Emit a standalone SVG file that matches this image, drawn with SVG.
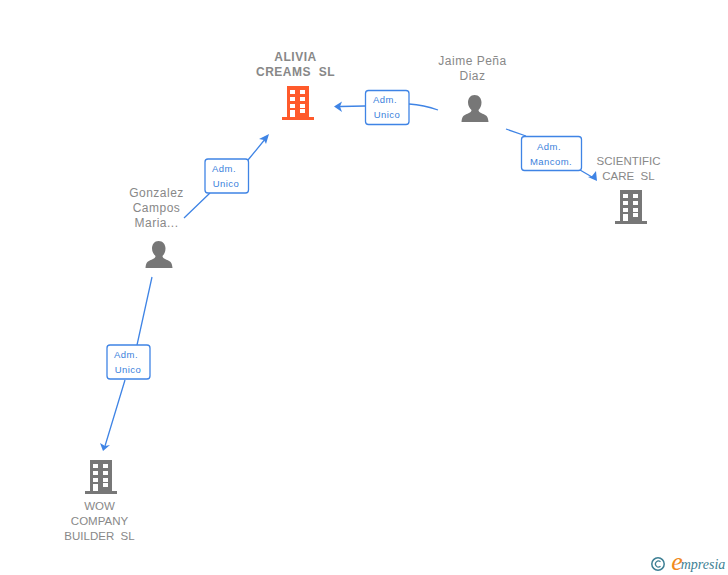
<svg xmlns="http://www.w3.org/2000/svg" width="728" height="575" viewBox="0 0 728 575">
<style>
text{font-family:"Liberation Sans",Arial,sans-serif;text-anchor:middle;white-space:pre}
.n{font-size:12px;fill:#888;letter-spacing:.5px}
.cap{font-size:11.500px;letter-spacing:0}
.b{font-weight:bold}
.l{font-size:9.5px;fill:#3b7fdc;letter-spacing:.45px}
.c{fill:none;stroke:#3f84e5;stroke-width:1.3}
.h{fill:#3f84e5}
.box{fill:#fff;stroke:#3f84e5;stroke-width:1.3}
.g{fill:#777}
.o{fill:#ff5a2b}
</style>
<defs>
<path id="bld" fill-rule="evenodd" d="M5 0H27V31H32V34H0V31H5ZM8 4V8H13V4ZM18 4V8H23V4ZM8 11V15H13V11ZM18 11V15H23V11ZM8 18V22H13V18ZM18 18V22H23V18ZM8 24V31H13V24ZM18 23V27H23V23Z"/>
<path id="per" d="M13 0C17.500 0 20 3.500 20 7.500C20 11 18.500 13.500 17 15C17 16.500 18 17.500 21 18.800C25 20.300 26.500 21.500 27 27H0C.5 21.500 2 20.300 6 18.800C9 17.500 10 16.500 10 15C8.500 13.500 6.500 11 6.500 7.500C6.500 3.500 9 0 13 0Z"/>
</defs>
<g id="connectors">
<path class="c" d="M438 110Q424 105 409 104M365 106L340 106.500"/>
<path class="h" d="M334 106.500L342 101.500L340 106.500L342 112Z"/>
<path class="c" d="M506 129L526 136M580 170L592 177"/>
<path class="h" d="M597 181L588 177L592 176L596 171Z"/>
<path class="c" d="M184 218L210 193M248 160L266 138"/>
<path class="h" d="M269 134L266 144L264 140L259 139Z"/>
<path class="c" d="M152 277L137 345M125 380L105 446"/>
<path class="h" d="M103 451L100 443L105 446L110 445Z"/>
</g>
<g id="node-alivia">
<use href="#bld" x="282" y="86" class="o"/>
<text class="n b" x="295.500" y="61">ALIVIA</text>
<text class="n b" x="295.500" y="76">CREAMS  SL</text>
</g>
<g id="node-jaime">
<use href="#per" x="461.500" y="95" class="g"/>
<text class="n" x="472.500" y="65">Jaime Peña</text>
<text class="n" x="472.500" y="80">Diaz</text>
</g>
<g id="node-scientific">
<use href="#bld" x="615" y="190" class="g"/>
<text class="n cap" x="628.500" y="165">SCIENTIFIC</text>
<text class="n cap" x="628.500" y="180">CARE  SL</text>
</g>
<g id="node-gonzalez">
<use href="#per" x="145.500" y="241" class="g"/>
<text class="n" x="156.500" y="197">Gonzalez</text>
<text class="n" x="156.500" y="212">Campos</text>
<text class="n" x="156.500" y="227">Maria...</text>
</g>
<g id="node-wow">
<use href="#bld" x="85" y="460" class="g"/>
<text class="n cap" x="99.500" y="510">WOW</text>
<text class="n cap" x="99.500" y="525">COMPANY</text>
<text class="n cap" x="99.500" y="540">BUILDER  SL</text>
</g>
<g id="label-1">
<rect class="box" x="365.500" y="90.500" width="43.500" height="34" rx="3"/>
<text class="l" x="385" y="103">Adm.</text>
<text class="l" x="387" y="118">Unico</text>
</g>
<g id="label-2">
<rect class="box" x="521.500" y="136.500" width="60" height="34" rx="3"/>
<text class="l" x="549" y="150">Adm.</text>
<text class="l" x="551" y="165">Mancom.</text>
</g>
<g id="label-3">
<rect class="box" x="205" y="159" width="43.500" height="34" rx="3"/>
<text class="l" x="224" y="172">Adm.</text>
<text class="l" x="226" y="187">Unico</text>
</g>
<g id="label-4">
<rect class="box" x="107" y="345" width="43" height="34" rx="3"/>
<text class="l" x="126" y="358">Adm.</text>
<text class="l" x="128" y="373">Unico</text>
</g>
<g id="logo">
<circle cx="658" cy="564" r="6.200" fill="none" stroke="#3d7f94" stroke-width="1.500"/>
<path d="M660.500 561.800A3 3 0 1 0 660.500 566.200" fill="none" stroke="#3d7f94" stroke-width="1.200"/>
<text x="677" y="570" style="font-family:'Liberation Serif',serif;font-style:italic;font-size:26px;fill:#f08a1d">e</text>
<text x="703" y="569" style="font-family:'Liberation Serif',serif;font-style:italic;font-size:14px;fill:#3d7f94">mpresia</text>
</g>
</svg>
